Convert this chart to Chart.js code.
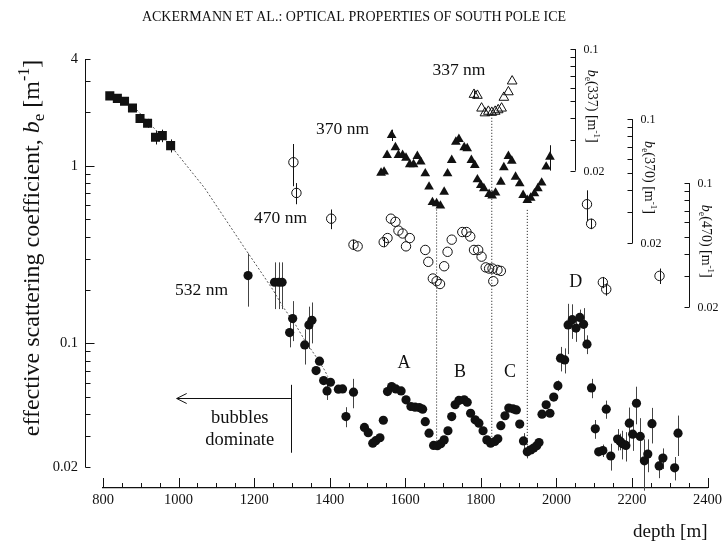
<!DOCTYPE html>
<html>
<head>
<meta charset="utf-8">
<script src="https://cdn.jsdelivr.net/npm/chart.js@4.4.0/dist/chart.umd.min.js"></script>
<style>
  html, body { margin: 0; padding: 0; background: #fff; }
  canvas { display: block; }
</style>
</head>
<body>
<canvas id="chart" width="725" height="544"></canvas>
<script>
// ---- 532 nm scattering profile (depth in m, b_e in 1/m) ----
const depth532 = [1184,1254,1265,1274,1294,1302,1334,1345,1353,1364,
  1373,1384,1393,1402,1423,1434,1443,1463,1492,1502,
  1514,1522,1533,1542,1553,1564,1575,1589,1602,1615,
  1626,1637,1646,1653,1663,1675,1685,1694,1703,1713,
  1723,1732,1742,1756,1764,1773,1785,1795,1806,1816,
  1826,1837,1845,1853,1864,1874,1885,1894,1903,1913,
  1923,1932,1940,1948,1954,1962,1973,1983,1993,2004,
  2011,2022,2031,2042,2052,2062,2072,2081,2093,2103,
  2112,2123,2132,2144,2162,2169,2175,2184,2193,2202,
  2212,2222,2233,2242,2253,2272,2282,2313,2322];
const be532 = [0.241,0.221,0.221,0.221,0.115,0.138,0.098,0.127,0.135,0.0703,
  0.0794,0.0617,0.054,0.0604,0.0552,0.0554,0.0387,0.0531,0.0336,0.0314,
  0.0274,0.0283,0.0294,0.0369,0.0535,0.0571,0.0554,0.054,0.0481,0.0441,
  0.0437,0.0435,0.0426,0.0362,0.0312,0.0266,0.0265,0.0272,0.0286,0.0322,
  0.0387,0.0451,0.0477,0.0481,0.0466,0.0404,0.0371,0.0355,0.0322,0.0286,
  0.0274,0.028,0.029,0.0344,0.0391,0.0432,0.0428,0.0422,0.0351,0.0282,
  0.0245,0.0251,0.0257,0.0265,0.0276,0.0399,0.0451,0.0404,0.0498,0.0578,
  0.0825,0.0807,0.127,0.136,0.122,0.140,0.128,0.099,0.0561,0.033,
  0.0245,0.0249,0.0426,0.0232,0.0289,0.028,0.0272,0.0266,0.0355,0.0308,
  0.046,0.0299,0.0218,0.0238,0.0353,0.0204,0.0226,0.0199,0.0312];
const err532 = [0.08,0.065,0.065,0.065,0.02,0.035,0.022,0.034,0.035,0,
  0,0,0.006,0,0,0,0.005,0.01,0,0,
  0,0,0,0,0,0,0,0,0,0,
  0,0,0,0,0,0,0,0,0,0,
  0,0,0,0,0,0,0,0,0,0,
  0,0,0,0,0,0,0,0,0,0.003,
  0.002,0,0,0,0,0,0,0,0,0.004,
  0.013,0.013,0.04,0.03,0.02,0.015,0.03,0.012,0.007,0.004,
  0,0.002,0.005,0.004,0.004,0.003,0.005,0.005,0.008,0.006,
  0.011,0.008,0.007,0.005,0.008,0.003,0.003,0.003,0.008];

// shallow bubbly ice (squares)
const depthSq = [818,838,857,878,898,918,939,957,979];
const beSq = [2.48,2.40,2.31,2.12,1.85,1.74,1.45,1.48,1.30];
const errSq = [0,0,0,0,0.1,0.1,0.13,0.12,0.11];

// 470 nm, read on its own inset axis
const depth470 = [1304,1312,1404,1463,1474,1543,1553,1562,1574,1582,
  1593,1602,1612,1653,1661,1673,1683,1692,1703,1712,
  1723,1751,1762,1772,1782,1793,1802,1813,1822,1831,
  1833,1844,1853,2081,2092,2123,2132,2273];
const be470 = [0.131,0.088,0.063,0.045,0.044,0.0465,0.049,0.063,0.0605,0.054,
  0.052,0.044,0.049,0.042,0.036,0.029,0.028,0.027,0.034,0.041,
  0.048,0.053,0.053,0.050,0.042,0.042,0.0385,0.0335,0.033,0.033,
  0.028,0.0324,0.032,0.076,0.059,0.0276,0.0252,0.030];
const err470 = [0.035,0.012,0.008,0.003,0,0.003,0,0,0,0,
  0,0,0,0,0,0,0,0,0,0,
  0,0,0,0,0,0,0,0,0,0,
  0,0,0,0.015,0.004,0.002,0.002,0.003];

// 370 nm
const depth370 = [1536,1544,1552,1564,1574,1582,1593,1602,1612,1622,
  1632,1641,1653,1663,1672,1683,1693,1703,1712,1723,
  1734,1742,1756,1764,1775,1784,1791,1800,1808,1822,
  1830,1839,1853,1861,1873,1882,1892,1903,1912,1923,
  1932,1942,1951,1961,1973,1983];
const be370 = [0.0498,0.0505,0.0627,0.0813,0.0693,0.0627,0.0627,0.0605,0.0556,0.0556,
  0.0619,0.0575,0.0494,0.0416,0.034,0.0335,0.0325,0.0389,0.0494,0.0588,
  0.0745,0.0772,0.0693,0.0684,0.0588,0.0551,0.0457,0.0425,0.0407,0.0378,
  0.037,0.0385,0.0443,0.0535,0.0619,0.0582,0.0473,0.0434,0.0373,0.035,
  0.036,0.0381,0.0407,0.0438,0.0539,0.0613];
const err370 = [0,0,0,0.006,0,0,0,0,0,0,
  0,0,0,0,0,0,0,0,0,0,
  0,0,0,0,0,0,0,0,0,0,
  0,0,0,0,0,0,0,0,0,0,
  0,0,0,0,0,0.01];

// 337 nm
const depth337 = [1782,1791,1802,1811,1820,1829,1838,1846,1855,1861,1873,1883];
const be337 = [0.0548,0.0541,0.0457,0.0429,0.0438,0.0432,0.0438,0.0447,0.0457,0.0527,0.0567,0.0654];
const err337 = [0.003,0,0,0,0,0,0,0,0,0,0,0];

// bubble fit curve
const fitDepth = [889,979,1069,1175,1214,1250,1276,1307,1333,1364,1386,1395];
const fitBe = [2.07,1.30,0.75,0.344,0.26,0.20,0.161,0.13,0.105,0.084,0.071,0.065];

// dotted guides linking the dust minima across wavelengths
const guideDepth = [1683,1829,1923];
const guideTop = [0.59,1.94,0.565];
const guideBottom = [0.0267,0.028,0.0258];

// axes
const xTickValues = [800,850,900,950,1000,1050,1100,1150,1200,1250,1300,1350,1400,1450,1500,1550,
  1600,1650,1700,1750,1800,1850,1900,1950,2000,2050,2100,2150,2200,2250,2300,2350,2400];
const xLabelValues = [800,1000,1200,1400,1600,1800,2000,2200,2400];
const yTickValues = [0.02,0.03,0.04,0.05,0.06,0.07,0.08,0.09,0.1,0.2,0.3,0.4,0.5,0.6,0.7,0.8,0.9,1,2,3,4];
const yLabelValues = [0.02,0.1,1,4];
const insetTicks = [0.02,0.03,0.04,0.05,0.06,0.07,0.08,0.09,0.1];
const insetLabels = ['337','370','470'];
const insetAxisIds = ['y337','y370','y470'];
const insetDepth = [2050,2200,2350];
const insetFactor = [45.6,18.33,8.0];

// text labels
const waveNames = ['337 nm','370 nm','470 nm','532 nm'];
const waveDepth = [1742,1434,1270,1061];
const waveBe = [3.43,1.60,0.509,0.2];
const layerNames = ['A','B','C','D'];
const layerDepth = [1597,1745,1877,2051];
const layerBe = [0.0777,0.069,0.069,0.222];

const Y_MIN = 0.01532, Y_MAX = 4;
const SERIF = "'Liberation Serif', 'Times New Roman', Times, serif";
const INK = '#111';

function seg(ctx, x1, y1, x2, y2) {
  ctx.beginPath();
  ctx.moveTo(x1, y1);
  ctx.lineTo(x2, y2);
  ctx.stroke();
}

function richText(ctx, runs, x, y, angle, size) {
  ctx.save();
  ctx.translate(x, y);
  ctx.rotate(angle);
  ctx.textAlign = 'left';
  ctx.textBaseline = 'alphabetic';
  ctx.fillStyle = INK;
  const fontOf = r => (r.italic ? 'italic ' : '') + r.size + 'px ' + SERIF;
  let w = 0;
  runs.forEach(r => { ctx.font = fontOf(r); r.w = ctx.measureText(r.t).width; w += r.w; });
  let cx = -w / 2;
  runs.forEach(r => { ctx.font = fontOf(r); ctx.fillText(r.t, cx, size * 0.33 + (r.dy || 0)); cx += r.w; });
  ctx.restore();
}

function beRuns(size, head, tail) {
  return [
    {t: head, size: size},
    {t: 'b', size: size, italic: true},
    {t: 'e', size: Math.round(size * 0.7), dy: size * 0.22},
    {t: tail, size: size},
    {t: '-1', size: Math.round(size * 0.65), dy: -size * 0.42},
    {t: ']', size: size}
  ];
}

const pts = (xs, ys) => xs.map((d, i) => ({x: d, y: ys[i]}));

const decor = {
  id: 'decor',
  beforeDatasetsDraw(chart) {
    const {ctx, chartArea, scales} = chart;
    const x = scales.x, y = scales.y;
    ctx.save();
    ctx.strokeStyle = INK;
    ctx.lineWidth = 1;

    // main y axis sits a little left of the plot frame, ticks pointing in
    const ax = Math.round(chartArea.left - 18) + 0.5;
    seg(ctx, ax, y.getPixelForValue(4), ax, y.getPixelForValue(0.02));
    yTickValues.forEach(v => {
      const py = Math.round(y.getPixelForValue(v)) + 0.5;
      const len = (v === 1 || v === 0.1) ? 9 : 5;
      seg(ctx, ax, py, ax + len, py);
    });

    // x ticks point up from the axis line
    const by = chartArea.bottom;
    xTickValues.forEach(v => {
      const px = Math.round(x.getPixelForValue(v)) + 0.5;
      const len = xLabelValues.includes(v) ? 10 : 5;
      seg(ctx, px, by, px, by - len);
    });

    // inset axes for the shorter wavelengths
    insetAxisIds.forEach((id, k) => {
      const s = scales[id];
      const px = Math.round(x.getPixelForValue(insetDepth[k])) + 0.5;
      seg(ctx, px, s.getPixelForValue(0.1), px, s.getPixelForValue(0.02));
      insetTicks.forEach(v => {
        const py = Math.round(s.getPixelForValue(v)) + 0.5;
        seg(ctx, px, py, px - 5, py);
      });
      ctx.fillStyle = INK;
      ctx.font = '12px ' + SERIF;
      ctx.textAlign = 'left';
      ctx.textBaseline = 'middle';
      ctx.fillText('0.1', px + 8, s.getPixelForValue(0.1) + 1);
      ctx.fillText('0.02', px + 8, s.getPixelForValue(0.02) + 1);
      richText(ctx, beRuns(14, '', '(' + insetLabels[k] + ') [m'), px + 17, s.getPixelForValue(0.047), Math.PI / 2, 14);
    });

    // error bars
    chart.data.datasets.forEach((ds, i) => {
      if (!ds.errs) return;
      const s = scales[ds.yAxisID];
      ctx.strokeStyle = ds.errColor || INK;
      ds.data.forEach((p, j) => {
        const e = ds.errs[j];
        if (!e) return;
        const px = Math.round(x.getPixelForValue(p.x)) + 0.5;
        seg(ctx, px, s.getPixelForValue(p.y + e), px, s.getPixelForValue(Math.max(p.y - e, 1e-4)));
      });
    });

    // "bubbles dominate" marker
    ctx.strokeStyle = INK;
    const bx = x.getPixelForValue(1298), tipX = x.getPixelForValue(995);
    const ay = Math.round(y.getPixelForValue(0.0491)) + 0.5;
    seg(ctx, tipX, ay, bx, ay);
    seg(ctx, tipX, ay, tipX + 10, ay - 5);
    seg(ctx, tipX, ay, tipX + 10, ay + 5);
    const vx = Math.round(bx) + 0.5;
    seg(ctx, vx, y.getPixelForValue(0.0584), vx, y.getPixelForValue(0.0242));
    ctx.restore();
  },
  afterDatasetsDraw(chart) {
    const {ctx, scales} = chart;
    const x = scales.x, y = scales.y;
    ctx.save();
    ctx.fillStyle = INK;
    ctx.textAlign = 'center';
    ctx.textBaseline = 'middle';
    ctx.font = '17.5px ' + SERIF;
    waveNames.forEach((t, i) => ctx.fillText(t, x.getPixelForValue(waveDepth[i]), y.getPixelForValue(waveBe[i])));
    ctx.font = '18px ' + SERIF;
    layerNames.forEach((t, i) => ctx.fillText(t, x.getPixelForValue(layerDepth[i]), y.getPixelForValue(layerBe[i])));
    ctx.font = '18.5px ' + SERIF;
    ctx.fillText('bubbles', x.getPixelForValue(1162), y.getPixelForValue(0.038));
    ctx.fillText('dominate', x.getPixelForValue(1162), y.getPixelForValue(0.0286));

    // y axis title with italic symbol and sub/superscripts
    richText(ctx, beRuns(24, 'effective scattering coefficient, ', ' [m'), 31, 248, -Math.PI / 2, 24);
    ctx.restore();
  }
};

const tickFont = {family: SERIF, size: 14.5};

new Chart(document.getElementById('chart'), {
  type: 'scatter',
  data: {
    datasets: [
      {data: pts(depthSq, beSq), errs: errSq, yAxisID: 'y', pointStyle: 'rect', pointRadius: 6.4,
        backgroundColor: INK, borderWidth: 0, order: 0},
      {data: pts(depth532, be532), errs: err532, errColor: '#444', yAxisID: 'y', pointStyle: 'circle',
        pointRadius: 4.6, backgroundColor: INK, borderWidth: 0, order: 0},
      {data: pts(depth470, be470), errs: err470, yAxisID: 'y470', pointStyle: 'circle', pointRadius: 4.7,
        backgroundColor: 'rgba(255,255,255,0)', borderColor: INK, borderWidth: 1, order: 0},
      {data: pts(depth370, be370), errs: err370, yAxisID: 'y370', pointStyle: 'triangle', pointRadius: 5.6,
        backgroundColor: INK, borderWidth: 0, order: 0},
      {data: pts(depth337, be337), errs: err337, yAxisID: 'y337', pointStyle: 'triangle', pointRadius: 5.6,
        backgroundColor: 'rgba(255,255,255,0)', borderColor: INK, borderWidth: 1, order: 0},
      {data: pts(fitDepth, fitBe), yAxisID: 'y', showLine: true, pointRadius: 0, borderColor: '#555',
        borderWidth: 1, borderDash: [2, 2], order: 2},
      ...guideDepth.map((d, i) => ({
        data: [{x: d, y: guideTop[i]}, {x: d, y: guideBottom[i]}], yAxisID: 'y', showLine: true,
        pointRadius: 0, borderColor: INK, borderWidth: 1, borderDash: [1, 2], order: 2
      }))
    ]
  },
  options: {
    responsive: false,
    animation: false,
    events: [],
    layout: {padding: {left: 0, right: 17, top: 0, bottom: 0}},
    plugins: {
      legend: {display: false},
      tooltip: {enabled: false},
      title: {
        display: true,
        text: 'ACKERMANN ET AL.: OPTICAL PROPERTIES OF SOUTH POLE ICE',
        color: INK,
        font: {family: SERIF, size: 14, weight: 'normal', lineHeight: 1.2},
        padding: {top: 8.6, bottom: 33.6}
      }
    },
    scales: {
      x: {
        type: 'linear', min: 800, max: 2400,
        afterBuildTicks: s => { s.ticks = xTickValues.map(v => ({value: v})); },
        afterFit: s => { s.height = 56; },
        ticks: {
          autoSkip: false, maxRotation: 0, padding: 3, color: INK, font: tickFont,
          callback: v => xLabelValues.includes(v) ? String(v) : ''
        },
        grid: {display: true, drawOnChartArea: false, drawTicks: false},
        border: {display: true, color: INK, width: 1.2},
        title: {display: true, text: 'depth [m]', align: 'end', color: INK,
          font: {family: SERIF, size: 19, lineHeight: 1}, padding: {top: 0, bottom: 2}}
      },
      y: {
        type: 'logarithmic', position: 'left', min: Y_MIN, max: Y_MAX,
        afterBuildTicks: s => { s.ticks = yTickValues.map(v => ({value: v})); },
        afterFit: s => { s.width = 103; },
        ticks: {
          autoSkip: false, padding: 25, color: INK, font: tickFont,
          callback: v => yLabelValues.includes(v) ? String(v) : ''
        },
        grid: {display: true, drawOnChartArea: false, drawTicks: false},
        border: {display: false}
      },
      y337: {type: 'logarithmic', display: false, min: Y_MIN / insetFactor[0], max: Y_MAX / insetFactor[0]},
      y370: {type: 'logarithmic', display: false, min: Y_MIN / insetFactor[1], max: Y_MAX / insetFactor[1]},
      y470: {type: 'logarithmic', display: false, min: Y_MIN / insetFactor[2], max: Y_MAX / insetFactor[2]}
    }
  },
  plugins: [decor]
});
</script>
</body>
</html>
